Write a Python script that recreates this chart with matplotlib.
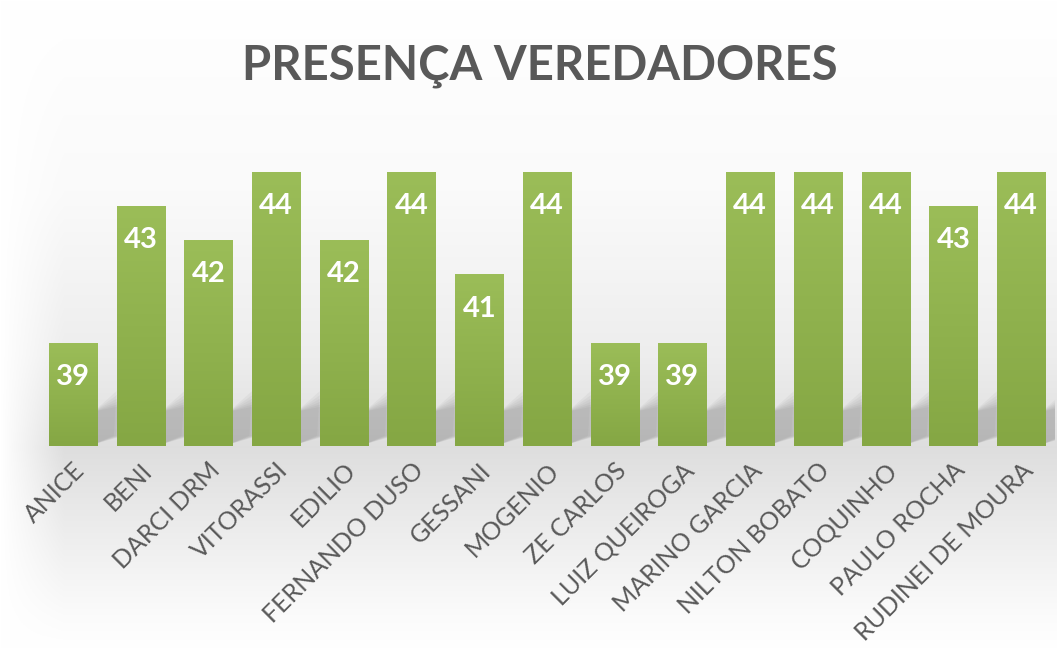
import numpy as np
import matplotlib
matplotlib.use("Agg")
import matplotlib.pyplot as plt
from matplotlib.colors import LinearSegmentedColormap

names = ["ANICE", "BENI", "DARCI DRM", "VITORASSI", "EDILIO", "FERNANDO DUSO",
         "GESSANI", "MOGENIO", "ZE CARLOS", "LUIZ QUEIROGA", "MARINO GARCIA",
         "NILTON BOBATO", "COQUINHO", "PAULO ROCHA", "RUDINEI DE MOURA"]
presencas = [39, 43, 42, 44, 42, 44, 41, 44, 39, 39, 44, 44, 44, 43, 44]
title = "PRESENÇA VEREDADORES"

W, H = 1057, 649
fig = plt.figure(figsize=(W / 100, H / 100), dpi=100)

# background gradient
bg = fig.add_axes([0, 0, 1, 1], zorder=0)
bg.set_axis_off()
yy = np.linspace(0, 1, 400)[:, None]  # 0 top -> 1 bottom
stops_y = [0.0, 0.3, 0.55, 0.69, 0.8, 0.95, 1.0]
stops_v = [1.0, 0.98, 0.93, 0.87, 0.92, 0.985, 1.0]
vert = np.interp(yy, stops_y, stops_v)
xx = np.linspace(0, 1, 600)[None, :]
edge = np.clip(np.minimum(xx / 0.06, 1), 0, 1)
img = 1 - (1 - vert) * edge
rgb = np.dstack([img, img, img])
bg.imshow(rgb, extent=[0, 1, 0, 1], aspect="auto", origin="upper")
bg.set_xlim(0, 1)
bg.set_ylim(0, 1)

ax = fig.add_axes([39 / W, (H - 446) / H, 1016 / W, (446 - 103) / H], zorder=1)
ax.patch.set_alpha(0)
x = np.arange(len(names))
bars = ax.bar(x, presencas, width=0.71, bottom=0, color="#92b352", zorder=2)
ax.set_xlim(-0.5, len(names) - 0.5)
ax.set_ylim(36, 46)

green = LinearSegmentedColormap.from_list("g", ["#85a744", "#9bbd58"])
grad = np.linspace(0, 1, 100)[:, None]
for b, v in zip(bars, presencas):
    x0 = b.get_x()
    x1 = x0 + b.get_width()
    # soft shadow behind the bar bottom
    for k in range(6):
        sh = plt.Polygon([[x1 - 0.05, 36.05], [x1 + 0.25 + 0.03 * k, 36.3],
                          [x1 + 0.29 + 0.03 * k, 37.6 - 0.08 * k], [x1 - 0.05, 37.0]],
                         closed=True, color="#505050", alpha=0.05, lw=0, zorder=1)
        ax.add_patch(sh)
    im = ax.imshow(grad, cmap=green, extent=[x0, x1, 36, v], aspect="auto",
                   origin="lower", zorder=3)
    im.set_clip_path(b)
    ax.text(b.get_x() + b.get_width() / 2, v - 1, str(v), ha="center", va="center",
            color="white", fontsize=21, fontweight="bold", family="Lato", zorder=4)

ax.set_xticks(x)
ax.set_xticklabels(names, rotation=45, ha="right", rotation_mode="anchor",
                   fontsize=18, color="#595959", family="Lato")
ax.tick_params(axis="x", length=0, pad=9)
ax.set_yticks([])
for s in ax.spines.values():
    s.set_visible(False)

fig.text(540 / W, 1 - 66 / H, title, ha="center", va="center", fontsize=34,
         fontweight="bold", color="#595959", family="Lato")

fig.savefig("out.png", dpi=100)
